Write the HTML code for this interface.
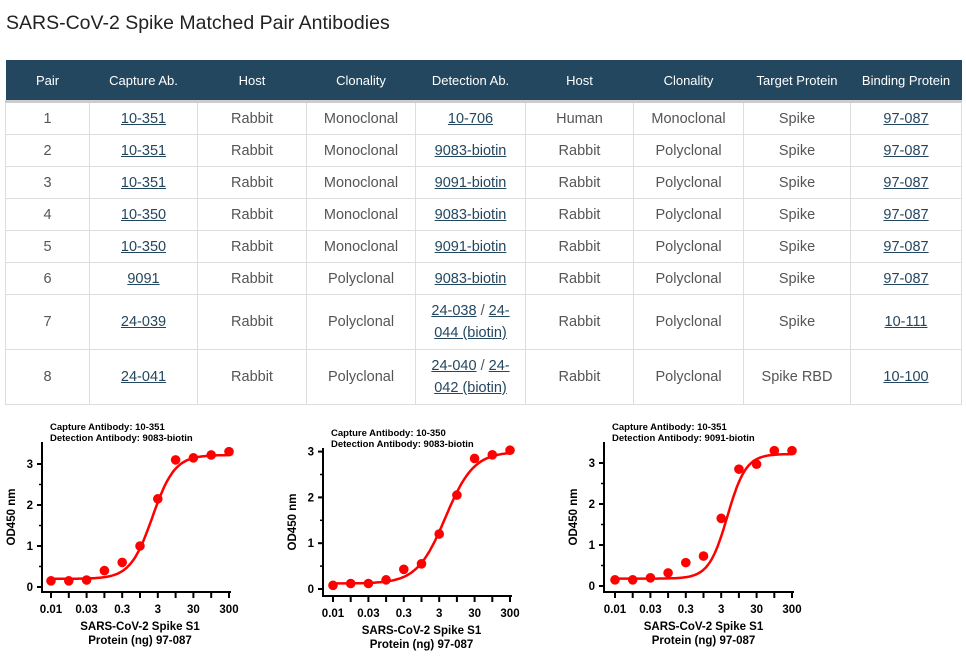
<!DOCTYPE html>
<html><head><meta charset="utf-8">
<style>
body{margin:0;width:966px;height:669px;background:#fff;font-family:"Liberation Sans",sans-serif;position:relative;overflow:hidden}
h1{position:absolute;left:6px;top:12px;margin:0;font-weight:normal;font-size:19.5px;color:#222}
table{position:absolute;left:5px;top:60px;border-collapse:collapse;table-layout:fixed;width:956px;font-size:14.5px;color:#555}
th{background:#23475f;color:#fff;font-weight:normal;font-size:13px;height:40px;border-bottom:3px solid #ccc;padding:0}
td{border:1px solid #ddd;text-align:center;height:31px;padding:0 4px;line-height:22px}
td a{color:#23475f;text-decoration:underline}
tr.tall td{height:54px}
svg{position:absolute;left:0;top:405px}
</style></head><body>
<h1>SARS-CoV-2 Spike Matched Pair Antibodies</h1>
<table>
<colgroup><col style="width:84px"><col style="width:108px"><col style="width:109px"><col style="width:109px"><col style="width:110px"><col style="width:108px"><col style="width:110px"><col style="width:107px"><col style="width:111px"></colgroup>
<tr><th>Pair</th><th>Capture Ab.</th><th>Host</th><th>Clonality</th><th>Detection Ab.</th><th>Host</th><th>Clonality</th><th>Target Protein</th><th>Binding Protein</th></tr>
<tr><td>1</td><td><a>10-351</a></td><td>Rabbit</td><td>Monoclonal</td><td><a>10-706</a></td><td>Human</td><td>Monoclonal</td><td>Spike</td><td><a>97-087</a></td></tr>
<tr><td>2</td><td><a>10-351</a></td><td>Rabbit</td><td>Monoclonal</td><td><a>9083-biotin</a></td><td>Rabbit</td><td>Polyclonal</td><td>Spike</td><td><a>97-087</a></td></tr>
<tr><td>3</td><td><a>10-351</a></td><td>Rabbit</td><td>Monoclonal</td><td><a>9091-biotin</a></td><td>Rabbit</td><td>Polyclonal</td><td>Spike</td><td><a>97-087</a></td></tr>
<tr><td>4</td><td><a>10-350</a></td><td>Rabbit</td><td>Monoclonal</td><td><a>9083-biotin</a></td><td>Rabbit</td><td>Polyclonal</td><td>Spike</td><td><a>97-087</a></td></tr>
<tr><td>5</td><td><a>10-350</a></td><td>Rabbit</td><td>Monoclonal</td><td><a>9091-biotin</a></td><td>Rabbit</td><td>Polyclonal</td><td>Spike</td><td><a>97-087</a></td></tr>
<tr><td>6</td><td><a>9091</a></td><td>Rabbit</td><td>Polyclonal</td><td><a>9083-biotin</a></td><td>Rabbit</td><td>Polyclonal</td><td>Spike</td><td><a>97-087</a></td></tr>
<tr class="tall"><td>7</td><td><a>24-039</a></td><td>Rabbit</td><td>Polyclonal</td><td><a>24-038</a> / <a>24-044 (biotin)</a></td><td>Rabbit</td><td>Polyclonal</td><td>Spike</td><td><a>10-111</a></td></tr>
<tr class="tall"><td>8</td><td><a>24-041</a></td><td>Rabbit</td><td>Polyclonal</td><td><a>24-040</a> / <a>24-042 (biotin)</a></td><td>Rabbit</td><td>Polyclonal</td><td>Spike RBD</td><td><a>10-100</a></td></tr>
</table>
<svg id="charts" width="966" height="264"></svg>
<script>
const xLabels=["0.01","","0.03","","0.3","","3","","30","","300"];
const yTicks=[0,1,2,3];
const captureNames=["10-351","10-350","10-351"];
const detectionNames=["9083-biotin","9083-biotin","9091-biotin"];
const series1=[0.15,0.15,0.17,0.4,0.6,1.0,2.15,3.1,3.15,3.22,3.3];
const series2=[0.08,0.12,0.12,0.2,0.43,0.55,1.2,2.05,2.85,2.93,3.03];
const series3=[0.15,0.15,0.2,0.32,0.57,0.73,1.65,2.85,2.97,3.3,3.3];
const fitBottom=[0.2,0.12,0.18];
const fitTop=[3.22,3.0,3.22];
const fitMid=[5.7,6.35,6.35];
const fitSlope=[1.6,1.25,1.9];
const allSeries=[series1,series2,series3];
// layout (pixels, relative to svg top=405)
const L=[{ax:42,x0:51,x1:229,y0:182,py:41,base:187,top:37},
         {ax:323,x0:333,x1:510,y0:184,py:45.8,base:191,top:43},
         {ax:604,x0:615,x1:792,y0:181,py:41,base:187,top:37}];
const svg=document.getElementById('charts');
const NS='http://www.w3.org/2000/svg';
function mk(t,a,p){const e=document.createElementNS(NS,t);for(const k in a)e.setAttribute(k,a[k]);(p||svg).appendChild(e);return e;}
allSeries.forEach((data,c)=>{
  const l=L[c];
  const g=mk('g',{});
  
  
  const n=xLabels.length;
  const X=i=>l.x0+(l.x1-l.x0)*i/(n-1);
  const Y=v=>l.y0-v*l.py;
  const ax=mk('path',{d:`M${l.ax},${l.top}V${l.base}H${l.x1+2}`,stroke:'#000','stroke-width':2,fill:'none'},g);
  
  
  yTicks.forEach(t=>{
    mk('line',{x1:l.ax-5,x2:l.ax,y1:Y(t),y2:Y(t),stroke:'#000','stroke-width':2},g);
    if(t<3)mk('line',{x1:l.ax-3,x2:l.ax,y1:Y(t+0.5),y2:Y(t+0.5),stroke:'#000','stroke-width':1.5},g);
    const tx=mk('text',{x:l.ax-9,y:Y(t)+4,'text-anchor':'end','font-size':11.5,'font-weight':'bold'},g);
    tx.textContent=t;
    
    
  });
  xLabels.forEach((s,i)=>{
    mk('line',{x1:X(i),x2:X(i),y1:l.base,y2:l.base+6,stroke:'#000','stroke-width':2},g);
    if(s){const tx=mk('text',{x:X(i),y:l.base+21,'text-anchor':'middle','font-size':11.5,'font-weight':'bold'},g);tx.textContent=s;
    
    }
  });
  const t1=mk('text',{x:l.ax+8,y:l.top-12,'font-size':9.5,'font-weight':'bold'},g);t1.textContent='Capture Antibody: '+captureNames[c];
  
  
  const t2=mk('text',{x:l.ax+8,y:l.top-1,'font-size':9.5,'font-weight':'bold'},g);t2.textContent='Detection Antibody: '+detectionNames[c];
  
  
  const cx=(l.x0+l.x1)/2;
  const x1=mk('text',{x:cx,y:l.base+38,'text-anchor':'middle','font-size':11.5,'font-weight':'bold'},g);x1.textContent='SARS-CoV-2 Spike S1';
  
  
  const x2=mk('text',{x:cx,y:l.base+52,'text-anchor':'middle','font-size':11.5,'font-weight':'bold'},g);x2.textContent='Protein (ng) 97-087';
  
  
  const my=(l.top+l.base)/2;
  const yt=mk('text',{x:0,y:0,transform:`translate(${l.ax-27},${my}) rotate(-90)`,'text-anchor':'middle','font-size':11.5,'font-weight':'bold'},g);yt.textContent='OD450 nm';
  
  
  let d='';
  for(let k=0;k<=200;k++){const i=(n-1)*k/200;const v=fitBottom[c]+(fitTop[c]-fitBottom[c])/(1+Math.exp(-(i-fitMid[c])*fitSlope[c]));d+=(k?'L':'M')+X(i).toFixed(1)+','+Y(v).toFixed(1);}
  const cv=mk('path',{d:d,stroke:'#f00','stroke-width':2.5,fill:'none'},g);
  
  
  data.forEach((v,i)=>{const p=mk('circle',{cx:X(i),cy:Y(v),r:4.8,fill:'#f00'},g);
    
    });
});
</script>
</body></html>
